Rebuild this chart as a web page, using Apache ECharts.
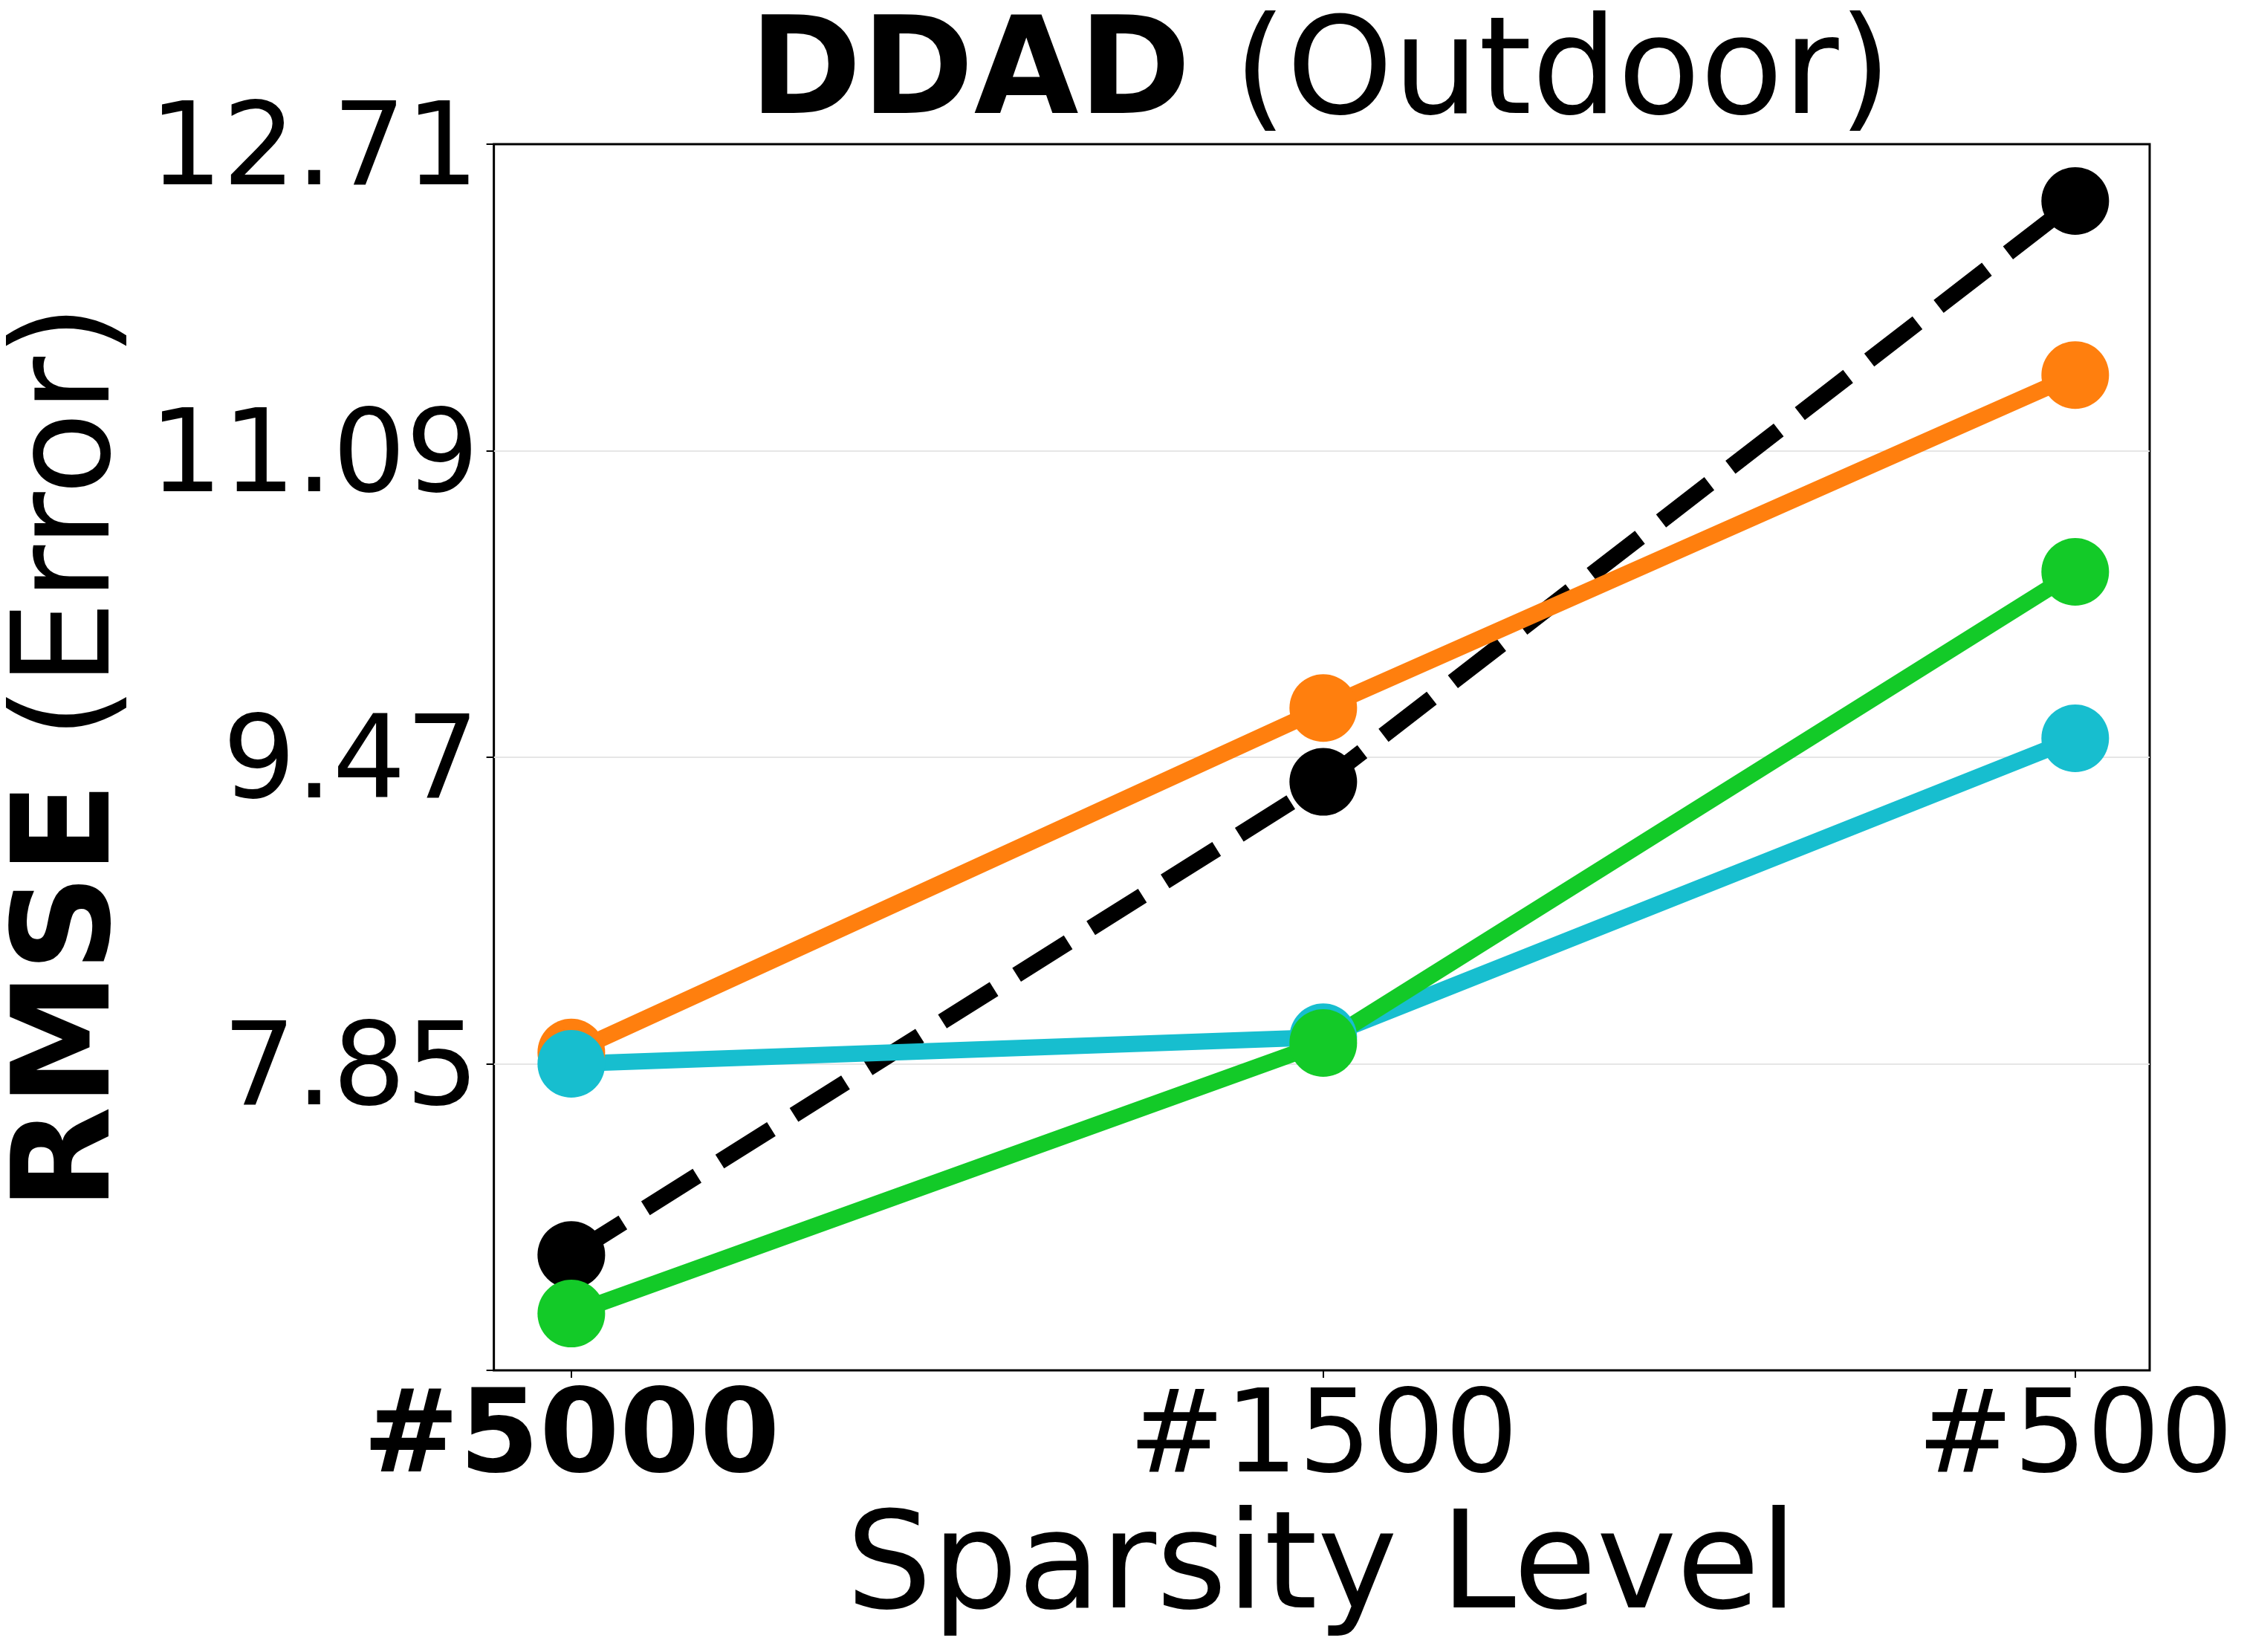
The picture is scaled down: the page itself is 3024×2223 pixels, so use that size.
<!DOCTYPE html>
<html>
<head>
<meta charset="utf-8">
<script src="https://cdn.jsdelivr.net/npm/echarts@6/dist/echarts.min.js"></script>
<style>
  html, body { margin: 0; padding: 0; background: #fff; }
  #chart { width: 3024px; height: 2223px; }
</style>
</head>
<body>
<div id="chart"></div>
<script>
// x categories (sparsity level) and y tick values
const categories = ['#5000', '#1500', '#500']
const yTicks = [7.85, 9.47, 11.09, 12.71]

// RMSE per sparsity level, one array per line
const blackDashed = [6.84, 9.34, 12.41]
const orangeLine = [7.91, 9.73, 11.49]
const cyanLine = [7.85, 7.99, 9.57]
const greenLine = [6.53, 7.96, 10.45]

const font = 'DejaVu Sans'
const tickStep = yTicks[1] - yTicks[0]
const yMin = +(yTicks[0] - tickStep).toFixed(2) // bottom of the frame

function toPoints (arr) {
  return arr.map(function (v, i) { return [i, v] })
}

function makeLine (name, data, color, dashed) {
  return {
    name: name,
    type: 'line',
    data: toPoints(data),
    symbol: 'circle',
    symbolSize: 91,
    showSymbol: true,
    itemStyle: { color: color },
    lineStyle: {
      color: color,
      width: 22,
      type: dashed ? [82, 36] : 'solid',
      cap: 'butt'
    },
    emphasis: { disabled: true },
    clip: false
  }
}

const myChart = echarts.init(document.getElementById('chart'))
const option = {
  backgroundColor: '#fff',
  animation: false,
  title: {
    text: '{b|DDAD}{n| (Outdoor)}',
    left: 1777,
    textAlign: 'center',
    top: 14,
    padding: 0,
    textStyle: {
      rich: {
        b: { fontFamily: font, fontSize: 182, fontWeight: 'bold', color: '#000' },
        n: { fontFamily: font, fontSize: 182, fontWeight: 'normal', color: '#000' }
      }
    }
  },
  grid: {
    left: 661,
    right: 131,
    top: 194,
    bottom: 379,
    show: true,
    borderColor: '#000',
    borderWidth: 3,
    backgroundColor: 'transparent'
  },
  xAxis: {
    type: 'value',
    min: -0.103,
    max: 2.099,
    name: 'Sparsity Level',
    nameLocation: 'middle',
    nameGap: 181,
    nameTextStyle: { fontFamily: font, fontSize: 182, color: '#000' },
    axisLine: { show: false, onZero: false },
    splitLine: { show: false },
    axisTick: {
      show: true,
      length: 10,
      customValues: [0, 1, 2],
      lineStyle: { color: '#000', width: 2 }
    },
    axisLabel: {
      customValues: [0, 1, 2],
      margin: 18,
      fontFamily: font,
      fontSize: 155,
      color: '#000',
      formatter: function (v) {
        const i = Math.round(v)
        return i === 0 ? '{b|' + categories[i] + '}' : '{n|' + categories[i] + '}'
      },
      rich: {
        b: { fontFamily: font, fontSize: 155, fontWeight: 'bold', color: '#000' },
        n: { fontFamily: font, fontSize: 155, fontWeight: 'normal', color: '#000' }
      }
    }
  },
  yAxis: {
    type: 'value',
    min: yMin,
    max: yTicks[yTicks.length - 1],
    interval: tickStep,
    name: '{b|RMSE}{n| (Error)}',
    nameLocation: 'middle',
    nameRotate: 90,
    nameGap: 455,
    nameTextStyle: {
      rich: {
        b: { fontFamily: font, fontSize: 182, fontWeight: 'bold', color: '#000' },
        n: { fontFamily: font, fontSize: 182, fontWeight: 'normal', color: '#000' }
      }
    },
    axisLine: { show: false, onZero: false },
    axisTick: {
      show: true,
      length: 10,
      lineStyle: { color: '#000', width: 2 }
    },
    axisLabel: {
      margin: 20,
      verticalAlign: 'top',
      lineHeight: 28,
      fontFamily: font,
      fontSize: 155,
      color: '#000',
      formatter: function (v) {
        return v < yTicks[0] - 0.01 ? '' : v.toFixed(2)
      }
    },
    splitLine: {
      show: true,
      showMinLine: false,
      showMaxLine: false,
      lineStyle: { color: '#e6e6e6', width: 2 }
    }
  },
  series: [
    makeLine('black', blackDashed, '#000000', true),
    makeLine('orange', orangeLine, '#ff7f0e', false),
    makeLine('cyan', cyanLine, '#17becf', false),
    makeLine('green', greenLine, '#13ca28', false)
  ]
}
myChart.setOption(option)
</script>
</body>
</html>
